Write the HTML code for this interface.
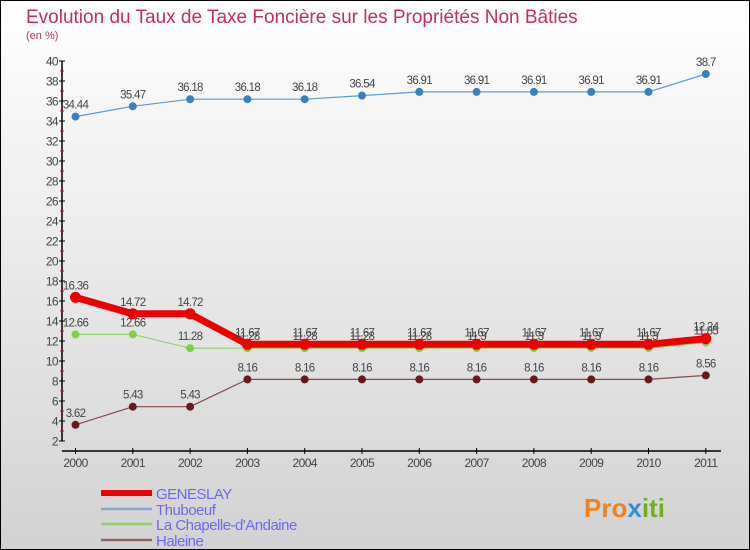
<!DOCTYPE html>
<html><head><meta charset="utf-8"><style>
html,body{margin:0;padding:0}
body{width:750px;height:550px;overflow:hidden;font-family:"Liberation Sans",sans-serif}
#wrap{position:relative;width:748px;height:548px;border:1px solid #000;background:linear-gradient(#ffffff,#d2d2d2)}
svg{position:absolute;left:0;top:0}
</style></head><body>
<div id="wrap">
<svg id="chart" width="748" height="548">
<text x="25" y="22" font-size="19" fill="#c0305a">Evolution du Taux de Taxe Foncière sur les Propriétés Non Bâties</text>
<text x="25" y="38" font-size="11" fill="#c0305a">(en %)</text>
<g id="axes"></g><g id="series"></g><g id="legend"></g>
<text x="583" y="516" font-size="26" font-weight="bold" fill="#f08020">Pro<tspan fill="#3090d0">x</tspan><tspan fill="#70b020">iti</tspan></text>
</svg>
</div>
<script>
const years=[2000,2001,2002,2003,2004,2005,2006,2007,2008,2009,2010,2011];
const geneslay=[16.36,14.72,14.72,11.67,11.67,11.67,11.67,11.67,11.67,11.67,11.67,12.24];
const thuboeuf=[34.44,35.47,36.18,36.18,36.18,36.54,36.91,36.91,36.91,36.91,36.91,38.7];
const chapelle=[12.66,12.66,11.28,11.28,11.28,11.28,11.28,11.3,11.3,11.3,11.3,11.85];
const haleine=[3.62,5.43,5.43,8.16,8.16,8.16,8.16,8.16,8.16,8.16,8.16,8.56];
const yTicks=[2,4,6,8,10,12,14,16,18,20,22,24,26,28,30,32,34,36,38,40];
const seriesNames=["GENESLAY","Thuboeuf","La Chapelle-d'Andaine","Haleine"];
const NS="http://www.w3.org/2000/svg";
function X(i){return 74.5+i*57.3;}
function Y(v){return 440-(v-2)*(380/38);}
function mk(tag,attrs,parent){const e=document.createElementNS(NS,tag);for(const k in attrs)e.setAttribute(k,attrs[k]);parent.appendChild(e);return e;}
const axes=document.getElementById('axes');
let yl=mk('line',{x1:61,y1:Y(40),x2:61,y2:Y(2),stroke:'#000','stroke-width':1.5},axes);


let xl=mk('line',{x1:61,y1:450,x2:720,y2:450,stroke:'#000','stroke-width':1.5},axes);


yTicks.forEach(v=>{
 mk('line',{x1:58,y1:Y(v),x2:64,y2:Y(v),stroke:'#000'},axes);
 if(v<40) mk('line',{x1:59,y1:Y(v+1),x2:63,y2:Y(v+1),stroke:'#e00'},axes);
 const t=mk('text',{x:57,y:Y(v)+4.5,'font-size':12,'text-anchor':'end',fill:'#444','letter-spacing':'-0.6'},axes);
 t.textContent=v;
 
 
});
years.forEach((yr,i)=>{
 mk('line',{x1:X(i),y1:447,x2:X(i),y2:453,stroke:'#000'},axes);
 const t=mk('text',{x:X(i),y:466,'font-size':12,'text-anchor':'middle',fill:'#444','letter-spacing':'-0.6'},axes);
 t.textContent=yr;
 
 
});
const sg=document.getElementById('series');
const defs=[
 {d:thuboeuf,c:'#5b9bd5',w:1.2,dot:'#3a80c0',r:4,name:'thuboeuf'},
 {d:chapelle,c:'#90d070',w:1.2,dot:'#80d040',r:4,name:'chapelle'},
 {d:haleine,c:'#8a4a4a',w:1.2,dot:'#6a1a1a',r:4,name:'haleine'},
 {d:geneslay,c:'#ee0000',w:7,dot:'#ee0000',r:5.5,name:'geneslay'}
];
defs.forEach(s=>{
 const pts=s.d.map((v,i)=>X(i)+','+Y(v)).join(' ');
 const pl=mk('polyline',{points:pts,fill:'none',stroke:s.c,'stroke-width':s.w,'stroke-linejoin':'round'},sg);
 
 
 s.d.forEach((v,i)=>{
  const c=mk('circle',{cx:X(i),cy:Y(v),r:s.r,fill:s.dot},sg);
  
  
  const t=mk('text',{x:X(i),y:Y(v)-8,'font-size':11.5,'text-anchor':'middle',fill:'#444','letter-spacing':'-0.7'},sg);
  t.textContent=v;
  
  
 });
});
const lg=document.getElementById('legend');
const lc=['#ee0000','#7aaed0','#90d070','#9a6060'];
const lw=[6,2.5,2.5,2.5];
const ly=[492,508,523,539];
seriesNames.forEach((n,i)=>{
 const l=mk('line',{x1:100,y1:ly[i],x2:151,y2:ly[i],stroke:lc[i],'stroke-width':lw[i]},lg);
 
 
 const t=mk('text',{x:155,y:ly[i]+6,'font-size':15,fill:'#6a6af0','letter-spacing':'-0.5'},lg);
 t.textContent=n;
 
 
});
</script>
</body></html>
